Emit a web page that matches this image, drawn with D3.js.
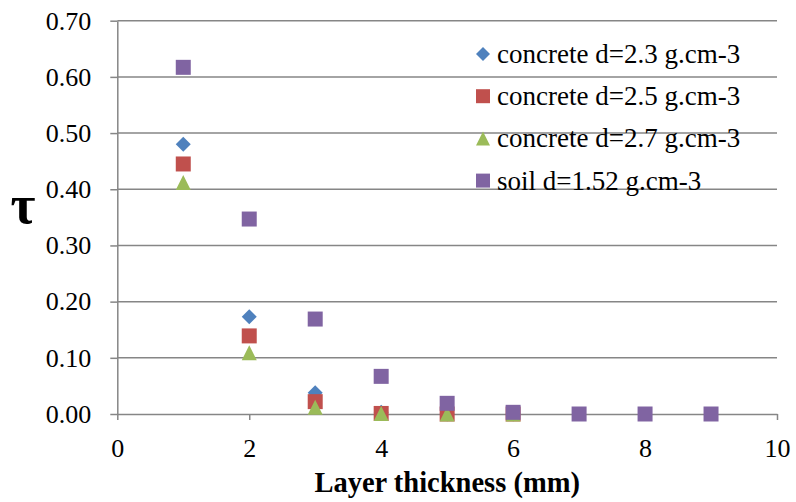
<!DOCTYPE html>
<html>
<head>
<meta charset="utf-8">
<script src="https://cdn.jsdelivr.net/npm/d3@7"></script>
<style>
  body { margin: 0; background: #fff; }
  svg { display: block; }
  .axis path, .axis line { stroke: #868686; stroke-width: 1.5; }
</style>
</head>
<body>
<div id="chart"></div>
<script>
// Data

var thickness = [1, 2, 3, 4, 5, 6, 7, 8, 9];
var concrete23 = [0.480, 0.173, 0.038, 0.003, 0.000, 0.000];
var concrete25 = [0.445, 0.139, 0.022, 0.001, 0.000, 0.000];
var concrete27 = [0.412, 0.109, 0.012, 0.001, 0.000, 0.000];
var soil152 = [0.617, 0.347, 0.169, 0.067, 0.019, 0.003, 0.000, 0.000, 0.000];
var seriesNames = ["concrete d=2.3 g.cm-3", "concrete d=2.5 g.cm-3", "concrete d=2.7 g.cm-3", "soil d=1.52 g.cm-3"];
var xTicks = [0, 2, 4, 6, 8, 10];
var yTicks = [0, 0.1, 0.2, 0.3, 0.4, 0.5, 0.6, 0.7];

var colors = ["#4F81BD", "#C0504D", "#9BBB59", "#8064A2"];
var shapes = ["diamond", "square", "triangle", "square"];
var serif = "'Liberation Serif', serif";

var series = [concrete23, concrete25, concrete27, soil152].map(function(vals, i) {
  return {
    name: seriesNames[i],
    color: colors[i],
    shape: shapes[i],
    points: vals.map(function(v, j) { return {x: thickness[j], y: v}; })
  };
});

// Svg

var width = 796, height = 502;
var margin = {top: 20.7, right: 19, bottom: 88, left: 117.3};

var svg = d3.select("#chart")
  .append("svg")
  .attr("width", width)
  .attr("height", height);

var xScale = d3.scaleLinear()
  .domain([0, 10])
  .range([margin.left, width - margin.right]);

var yScale = d3.scaleLinear()
  .domain([0, 0.7])
  .range([height - margin.bottom, margin.top]);

// marker shape centred on 0,0
function marker(shape, s) {
  var h = s / 2;
  if (shape == "diamond") return `M0,${-h}L${h},0L0,${h}L${-h},0Z`;
  if (shape == "triangle") return `M0,${-h}L${h},${h}L${-h},${h}Z`;
  return `M${-h},${-h}H${h}V${h}H${-h}Z`;
}

// Gridlines

svg.append("g")
  .selectAll("line")
  .data(yTicks.slice(1))
  .enter().append("line")
  .attr("x1", xScale(0))
  .attr("x2", xScale(10))
  .attr("y1", d => yScale(d))
  .attr("y2", d => yScale(d))
  .attr("stroke", "#868686")
  .attr("stroke-width", 1.5);

// Axes

var yAxis = svg.append("g")
  .attr("class", "axis")
  .attr("transform", `translate(${margin.left}, 0)`)
  .call(d3.axisLeft(yScale).tickValues(yTicks).tickFormat(d3.format(".2f")).tickSizeInner(7).tickSizeOuter(0).tickPadding(19));

var xAxis = svg.append("g")
  .attr("class", "axis")
  .attr("transform", `translate(0, ${height - margin.bottom})`)
  .call(d3.axisBottom(xScale).tickValues(xTicks).tickSizeInner(6).tickSizeOuter(0).tickPadding(19));

svg.selectAll(".axis text")
  .style("font-family", serif)
  .style("font-size", "26px")
  .attr("fill", "#000");

// Labels

svg.append("text")
  .attr("x", (xScale(0) + xScale(10)) / 2)
  .attr("y", 492)
  .attr("text-anchor", "middle")
  .style("font-family", serif)
  .style("font-weight", "bold")
  .style("font-size", "28.5px")
  .text("Layer thickness (mm)");

svg.append("text")
  .attr("x", 23)
  .attr("y", 223)
  .attr("text-anchor", "middle")
  .style("font-family", serif)
  .style("font-weight", "bold")
  .style("font-size", "54px")
  .text("τ");

// Points

svg.selectAll(".series")
  .data(series)
  .enter().append("g")
  .attr("class", "series")
  .attr("fill", d => d.color)
  .each(function(s) {
    d3.select(this).selectAll("path")
      .data(s.points)
      .enter().append("path")
      .attr("transform", d => `translate(${xScale(d.x)}, ${yScale(d.y)})`)
      .attr("d", marker(s.shape, 15));
  });

// Legend

var legend = svg.append("g")
  .attr("class", "legend")
  .selectAll("g")
  .data(series)
  .enter().append("g")
  .attr("transform", (d, i) => `translate(483, ${54 + i * 42.2})`);

legend.append("path")
  .attr("d", d => marker(d.shape, 14))
  .attr("fill", d => d.color);

legend.append("text")
  .attr("x", 14)
  .attr("y", 9)
  .style("font-family", serif)
  .style("font-size", "27px")
  .text(d => d.name);
</script>
</body>
</html>
